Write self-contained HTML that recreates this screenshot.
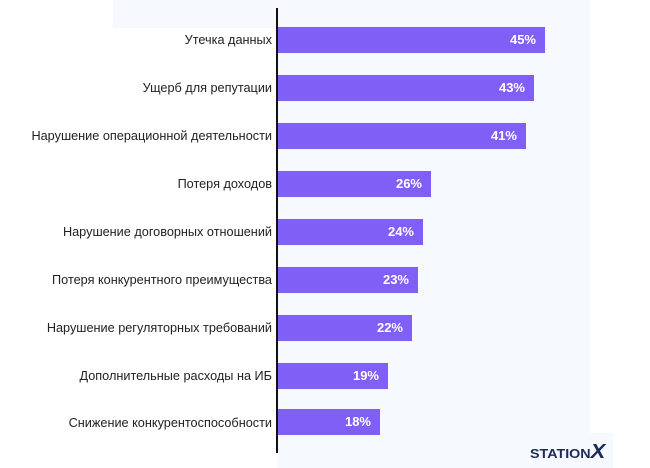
<!DOCTYPE html><html><head><meta charset="utf-8"><style>
body{margin:0;width:650px;height:468px;background:#fff;position:relative;overflow:hidden;font-family:"Liberation Sans",sans-serif}
.p{position:absolute;background:#f6f9fd}
.l{position:absolute;right:378px;font-size:12.7px;color:#222;white-space:nowrap;line-height:16px}
.b{position:absolute;left:278px;height:26px;background:#7f5ff5;color:#fff;font-weight:bold;font-size:13px;line-height:26px;text-align:right;box-sizing:border-box;padding-right:9px}
</style></head><body>
<div class="p" style="left:113px;top:0;width:454px;height:28px"></div>
<div class="p" style="left:277px;top:0;width:313px;height:468px"></div>
<div class="p" style="left:520px;top:433px;width:93px;height:35px"></div>
<div style="position:absolute;left:276px;top:8px;width:2px;height:445px;background:#111"></div>

<div class="l" style="top:32px">Утечка данных</div><div class="b" style="top:27px;width:267px">45%</div>
<div class="l" style="top:80px">Ущерб для репутации</div><div class="b" style="top:75px;width:256px">43%</div>
<div class="l" style="top:128px">Нарушение операционной деятельности</div><div class="b" style="top:123px;width:248px">41%</div>
<div class="l" style="top:176px">Потеря доходов</div><div class="b" style="top:171px;width:153px">26%</div>
<div class="l" style="top:224px">Нарушение договорных отношений</div><div class="b" style="top:219px;width:145px">24%</div>
<div class="l" style="top:272px">Потеря конкурентного преимущества</div><div class="b" style="top:267px;width:140px">23%</div>
<div class="l" style="top:320px">Нарушение регуляторных требований</div><div class="b" style="top:315px;width:134px">22%</div>
<div class="l" style="top:368px">Дополнительные расходы на ИБ</div><div class="b" style="top:363px;width:110px">19%</div>
<div class="l" style="top:415px">Снижение конкурентоспособности</div><div class="b" style="top:409px;width:102px">18%</div>

<div style="position:absolute;left:530px;top:443px;font-size:13px;font-weight:bold;color:#1e2a5a;line-height:18px;transform:scaleX(1.1);transform-origin:left">STATION<span style="font-size:20px;font-style:italic">X</span></div>
</body></html>
